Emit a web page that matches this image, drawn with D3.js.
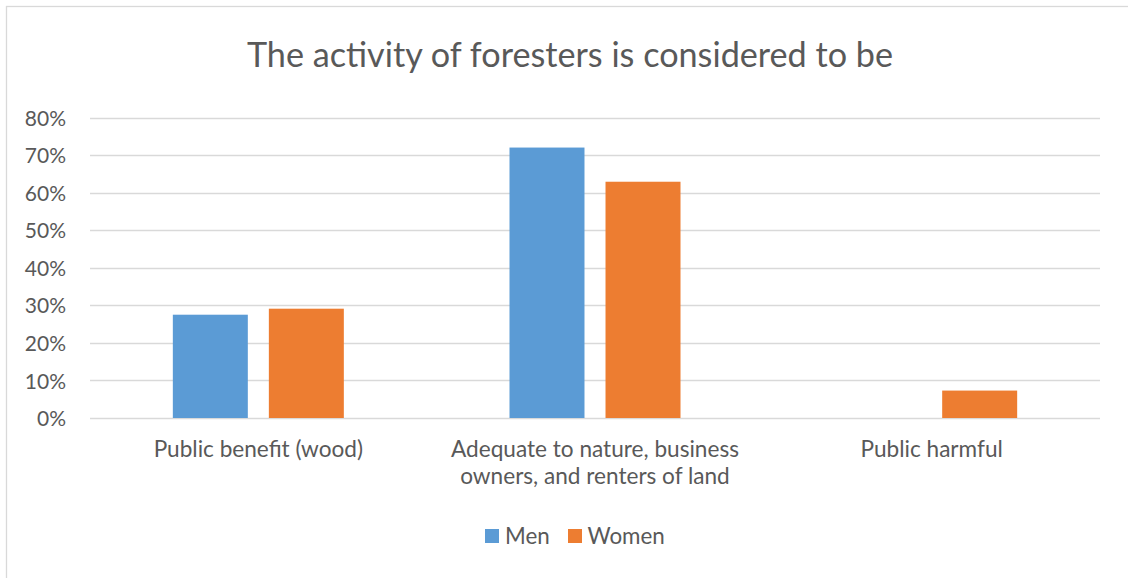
<!DOCTYPE html>
<html>
<head>
<meta charset="utf-8">
<script src="https://cdn.jsdelivr.net/npm/d3@7"></script>
<style>
  html, body { margin: 0; padding: 0; background: #fff; }
  svg { display: block; font-family: Lato, "Open Sans", sans-serif; }
</style>
</head>
<body>
<svg id="chart" width="1128" height="578"></svg>
<script>
const title = "The activity of foresters is considered to be";
const categories = [
  ["Public benefit (wood)"],
  ["Adequate to nature, business", "owners, and renters of land"],
  ["Public harmful"]
];
const seriesNames = ["Men", "Women"];
const menValues = [0.275, 0.72, 0];
const womenValues = [0.291, 0.629, 0.073];
const colors = ["#5B9BD5", "#ED7D31"];
const yTicks = [0, 0.1, 0.2, 0.3, 0.4, 0.5, 0.6, 0.7, 0.8];

const svg = d3.select("#chart");
const W = 1128, H = 578;
const plot = { left: 90, right: 1100, top: 117.5, bottom: 418 };
const textColor = "#595959";

// chart border
svg.append("rect")
  .attr("x", 6.5).attr("y", 6.5)
  .attr("width", W + 10).attr("height", H + 10)
  .attr("fill", "#fff").attr("stroke", "#D9D9D9").attr("stroke-width", 1.3);

// title
svg.append("text")
  .attr("x", 570).attr("y", 67)
  .attr("text-anchor", "middle")
  .attr("fill", textColor)
  .style("font-size", "34.2px")
  .text(title);

const catIdx = categories.map((d, i) => i);
const x0 = d3.scaleBand().domain(catIdx).range([plot.left, plot.right]).padding(0);
const groupW = 171;
const x1 = d3.scaleBand().domain(seriesNames)
  .range([(x0.bandwidth() - groupW) / 2, (x0.bandwidth() + groupW) / 2])
  .paddingInner(0.219).paddingOuter(0);
const y = d3.scaleLinear().domain([0, 0.8]).range([plot.bottom, plot.top]);

// gridlines
svg.append("g")
  .selectAll("line").data(yTicks).join("line")
  .attr("x1", plot.left).attr("x2", plot.right)
  .attr("y1", d => Math.round(y(d)) + 0.5).attr("y2", d => Math.round(y(d)) + 0.5)
  .attr("stroke", "#D9D9D9").attr("stroke-width", 1.3);

// y axis labels
const yAxis = d3.axisLeft(y).tickValues(yTicks).tickFormat(d3.format(".0%")).tickSize(0).tickPadding(0);
const yg = svg.append("g").attr("transform", `translate(66,0)`).call(yAxis);
yg.select(".domain").remove();
yg.selectAll("text").attr("fill", textColor).style("font-size", "21px")
  .style("font-family", "Lato, 'Open Sans', sans-serif").attr("dy", "0.36em");

// bars
const data = catIdx.map(i => ({ i, vals: [menValues[i], womenValues[i]] }));
const groups = svg.append("g").selectAll("g").data(data).join("g")
  .attr("transform", d => `translate(${x0(d.i)},0)`);
groups.selectAll("rect")
  .data(d => d.vals.map((v, k) => ({ v, k })).filter(e => e.v > 0))
  .join("rect")
  .attr("x", e => x1(seriesNames[e.k]))
  .attr("width", x1.bandwidth())
  .attr("y", e => y(e.v))
  .attr("height", e => y(0) - y(e.v))
  .attr("fill", e => colors[e.k]);

// x axis category labels
const xl = svg.append("g");
catIdx.forEach(i => {
  const t = xl.append("text")
    .attr("x", x0(i) + x0.bandwidth() / 2)
    .attr("y", 457)
    .attr("text-anchor", "middle")
    .attr("fill", textColor)
    .style("font-size", "22.6px");
  categories[i].forEach((line, j) => {
    t.append("tspan").attr("x", x0(i) + x0.bandwidth() / 2).attr("dy", j === 0 ? 0 : 26.5).text(line);
  });
});

// legend
const legendItems = [{ name: "Men", sx: 485, tx: 505 }, { name: "Women", sx: 568, tx: 587.5 }];
const lg = svg.append("g");
legendItems.forEach((it, k) => {
  lg.append("rect").attr("x", it.sx).attr("y", 529).attr("width", 14).attr("height", 14).attr("fill", colors[k]);
  lg.append("text").attr("x", it.tx).attr("y", 544).attr("fill", textColor)
    .style("font-size", "22.4px").text(it.name);
});
</script>
</body>
</html>
